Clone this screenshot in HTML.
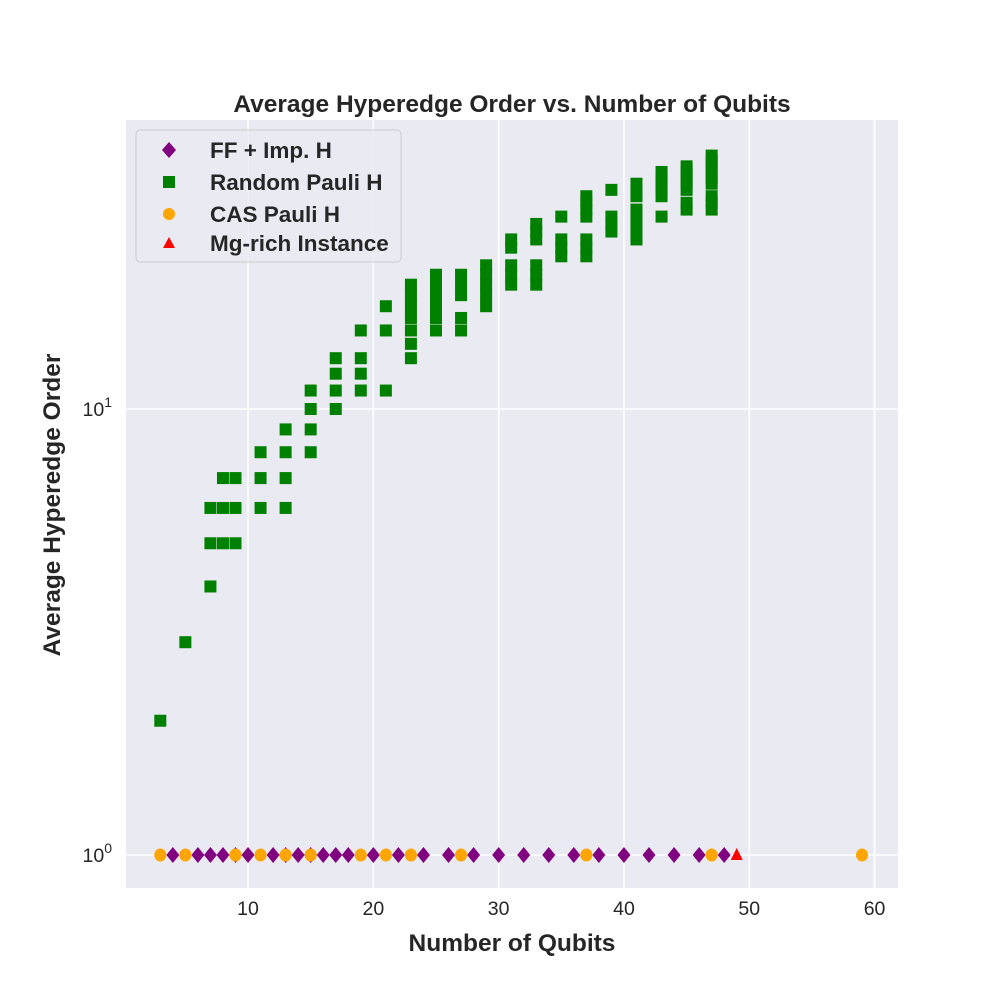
<!DOCTYPE html>
<html><head><meta charset="utf-8"><style>
body{margin:0;background:#fff;}
svg{font-family:"Liberation Sans",sans-serif;}
</style></head><body>
<svg id="chart" width="1000" height="1000">
<rect x="126" y="120" width="772" height="768" fill="#eaeaf2"/>
<g id="grid"></g>
<g id="marks"></g>
<g id="ticks"></g>
<text x="512" y="112" text-anchor="middle" font-size="24.5" font-weight="bold" fill="#262626">Average Hyperedge Order vs. Number of Qubits</text>
<text x="512" y="951" text-anchor="middle" font-size="24.5" font-weight="bold" fill="#262626">Number of Qubits</text>
<text transform="translate(60,505) rotate(-90)" text-anchor="middle" font-size="24.5" font-weight="bold" fill="#262626">Average Hyperedge Order</text>
<g>
<rect x="136" y="130" width="265" height="132" rx="4" fill="#eaeaf2" fill-opacity="0.8" stroke="#cccccc"/>
<g><polygon points="169,142 176,150 169,158 162,150" fill="#800080"/><text x="210" y="158" font-size="22.5" font-weight="bold" fill="#262626">FF + Imp. H</text></g>
<g><rect x="163" y="176" width="12" height="12" fill="#008000"/><text x="210" y="190" font-size="22.5" font-weight="bold" fill="#262626">Random Pauli H</text></g>
<g><circle cx="169" cy="214" r="6" fill="#ffa500"/><text x="210" y="222" font-size="22.5" font-weight="bold" fill="#262626">CAS Pauli H</text></g>
<g><polygon points="169,237 175,248 163,248" fill="#ff0000"/><text x="210" y="251" font-size="22.5" font-weight="bold" fill="#262626">Mg-rich Instance</text></g>
</g>
</svg>
<script>
const xTicks=[10,20,30,40,50,60];
const yTickExps=[0,1];
const ffX=[4,6,7,8,9,10,12,13,14,15,16,17,18,20,22,24,26,28,30,32,34,36,38,40,42,44,46,48];
const casX=[3,5,9,11,13,15,19,21,23,27,37,47,59];
const mgX=[49];
const randX=[3,5,7,7,7,8,8,8,9,9,9,11,11,11,13,13,13,13,15,15,15,15,17,17,17,17,19,19,19,19,21,21,21,
23,23,23,23,23,23,23,25,25,25,25,25,25,27,27,27,27,27,29,29,29,29,29,31,31,31,31,31,33,33,33,33,33,33,
35,35,35,35,37,37,37,37,37,37,37,39,39,39,39,41,41,41,41,41,41,41,41,43,43,43,43,43,43,
45,45,45,45,45,45,45,47,47,47,47,47,47,47,47,47];
const randY=[2,3,4,5,6,5,6,7,5,6,7,6,7,8,6,7,8,9,8,9,10,11,10,11,12,13,11,12,13,15,11,15,17,
13,14,15,16,17,18,19,15,16,17,18,19,20,15,16,18,19,20,17,18,19,20,21,19,20,21,23,24,19,20,21,24,25,26,
22,23,24,27,22,23,24,27,28,29,30,25,26,27,31,24,25,26,27,28,30,31,32,27,30,31,32,33,34,
28,29,31,32,33,34,35,28,29,30,32,33,34,35,36,37];
const NS='http://www.w3.org/2000/svg';
const X0=0.262,X1=61.87,PX0=126,PX1=898;
const LY0=-0.074,LY1=1.648,PY0=888,PY1=120;
function sx(v){return PX0+(v-X0)/(X1-X0)*(PX1-PX0);}
function sy(v){return PY0+(Math.log10(v)-LY0)/(LY1-LY0)*(PY1-PY0);}
function mk(tag,attrs,parent){const e=document.createElementNS(NS,tag);for(const k in attrs)e.setAttribute(k,attrs[k]);document.getElementById(parent).appendChild(e);return e;}
xTicks.forEach(t=>{
 const l=mk('line',{x1:sx(t),x2:sx(t),y1:120,y2:888,stroke:'#fff','stroke-width':1.6},'grid');
 
 
 const tx=mk('text',{x:sx(t),y:915,'text-anchor':'middle','font-size':19.5,fill:'#262626'},'ticks');
 tx.textContent=t;
 
 
});
yTickExps.forEach(e=>{
 const y=sy(Math.pow(10,e));
 const l=mk('line',{x1:126,x2:898,y1:y,y2:y,stroke:'#fff','stroke-width':1.6},'grid');
 
 
 const tx=mk('text',{x:112,y:y+7,'text-anchor':'end','font-size':19.5,fill:'#262626'},'ticks');
 tx.innerHTML='10<tspan font-size="14" dy="-9">'+e+'</tspan>';
 
 
});
randX.forEach((x,i)=>{
 const r=mk('rect',{x:sx(x)-6,y:sy(randY[i])-6,width:12,height:12,fill:'#008000'},'marks');
 
 
});
ffX.forEach(x=>{
 const cx=sx(x),cy=sy(1);
 const p=mk('polygon',{points:`${cx},${cy-8} ${cx+6.5},${cy} ${cx},${cy+8} ${cx-6.5},${cy}`,fill:'#800080'},'marks');
 
 
});
casX.forEach(x=>{
 const c=mk('ellipse',{cx:sx(x),cy:sy(1),rx:6,ry:6.5,fill:'#ffa500'},'marks');
 
 
});
mgX.forEach(x=>{
 const cx=sx(x),cy=sy(1);
 const p=mk('polygon',{points:`${cx},${cy-7} ${cx+6},${cy+5} ${cx-6},${cy+5}`,fill:'#ff0000'},'marks');
 
 
});
</script>
</body></html>
